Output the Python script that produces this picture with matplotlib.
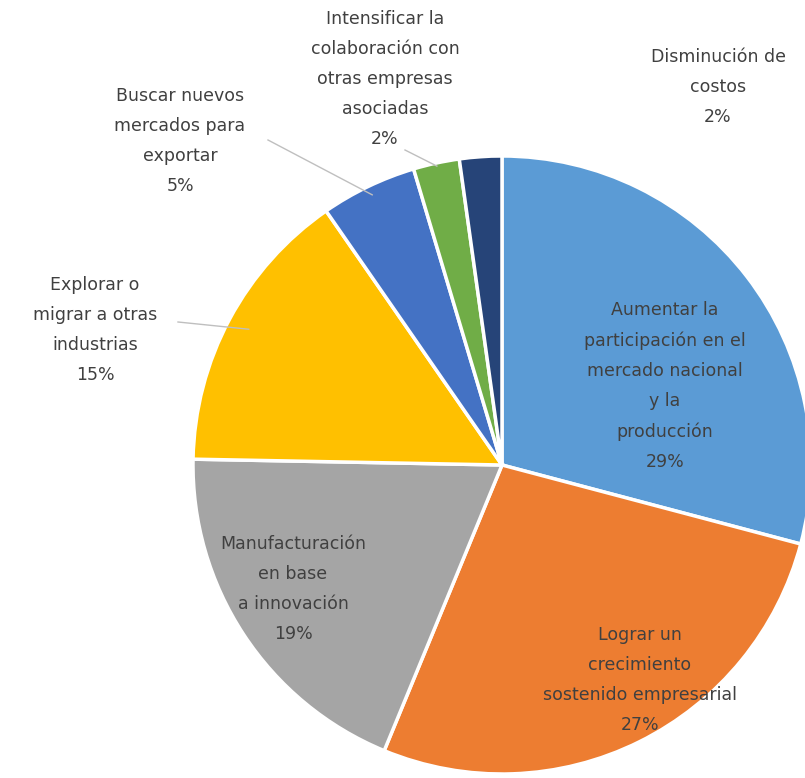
import matplotlib
matplotlib.use("Agg")
import matplotlib.pyplot as plt
import numpy as np

plt.rcParams['font.family'] = ['DejaVu Sans']

categories = [
    "Aumentar la\nparticipación en el\nmercado nacional\ny la\nproducción",
    "Lograr un\ncrecimiento\nsostenido empresarial",
    "Manufacturación\nen base\na innovación",
    "Explorar o\nmigrar a otras\nindustrias",
    "Buscar nuevos\nmercados para\nexportar",
    "Intensificar la\ncolaboración con\notras empresas\nasociadas",
    "Disminución de\ncostos",
]
values = [29, 27, 19, 15, 5, 2.4, 2.2]
colors = ["#5B9BD5", "#ED7D31", "#A5A5A5", "#FFC000", "#4472C4", "#70AD47", "#264478"]

W, H = 805, 778
fig = plt.figure(figsize=(W / 100, H / 100), dpi=100)
ax = fig.add_axes([0, 0, 1, 1])

cx, cy, R = 502, H - 465, 309
wedges, _ = ax.pie(values, colors=colors, startangle=90, counterclock=False,
                   center=(cx, cy), radius=R, frame=True,
                   wedgeprops=dict(edgecolor='white', linewidth=2.5))
ax.set_xlim(0, W)
ax.set_ylim(0, H)
ax.set_aspect('equal')
ax.axis('off')

labels = [f"{c}\n{v:.0f}%" for c, v in zip(categories, values)]
tcol = "#404040"
fs = 12.5
ls = 1.85

# label positions (layout only)
label_pos = {0: (665, H - 386), 1: (640, H - 680), 2: (293, H - 589),
             3: (95, H - 330), 4: (180, H - 141), 5: (385, H - 79),
             6: (718, H - 87)}
for i, (x, y) in label_pos.items():
    ax.text(x, y, labels[i], ha='center', va='center', fontsize=fs,
            color=tcol, linespacing=ls)

# leader lines for outside labels
leaders = {3: ((178, H - 322), 0.93), 4: ((268, H - 140), 0.97),
           5: ((405, H - 150), 0.99)}
for i, (lp, frac) in leaders.items():
    w = wedges[i]
    ang = np.deg2rad((w.theta1 + w.theta2) / 2)
    ex = cx + frac * R * np.cos(ang)
    ey = cy + frac * R * np.sin(ang)
    ax.plot([lp[0], ex], [lp[1], ey], color="#BFBFBF", lw=1)

fig.savefig("out.png", dpi=100, facecolor='white')
